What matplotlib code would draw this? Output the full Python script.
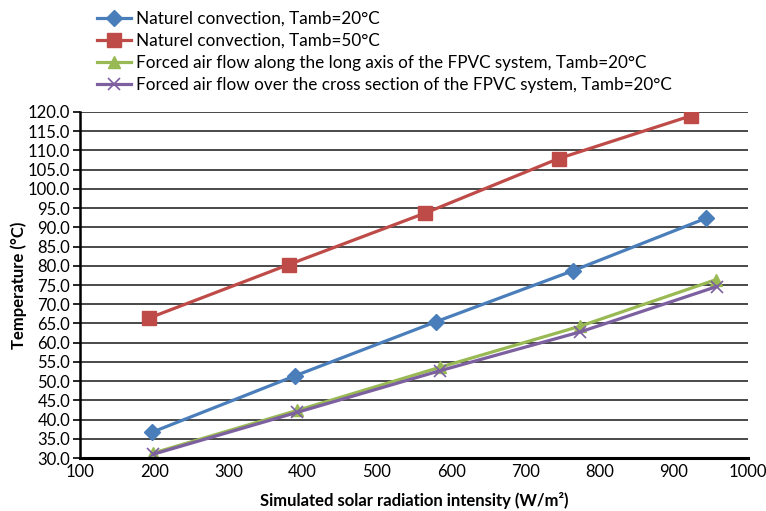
import matplotlib.pyplot as plt
import numpy as np

plt.rcParams['font.family'] = ['Lato', 'DejaVu Sans']

x_nat20 = [197, 390, 579, 764, 944]
t_nat20 = [36.7, 51.4, 65.4, 78.7, 92.4]
x_nat50 = [193, 381, 565, 745, 923]
t_nat50 = [66.4, 80.3, 93.7, 107.9, 119.0]
x_long = [199, 393, 585, 774, 957]
t_long = [31.3, 42.4, 53.6, 64.3, 76.4]
x_cross = [199, 393, 585, 774, 958]
t_cross = [31.0, 41.9, 52.7, 62.8, 74.6]

labels = ["Naturel convection, Tamb=20°C",
          "Naturel convection, Tamb=50°C",
          "Forced air flow along the long axis of the FPVC system, Tamb=20°C",
          "Forced air flow over the cross section of the FPVC system, Tamb=20°C"]
colors = ['#4A7EBB', '#BE4B48', '#98B954', '#7D60A0']

fig = plt.figure(figsize=(7.66, 5.11), dpi=100)
ax = fig.add_axes([80/766, 53/511, 668/766, 346/511])

ax.plot(x_nat20, t_nat20, color=colors[0], lw=2.3, marker='D', ms=8,
        mec=colors[0], label=labels[0])
ax.plot(x_nat50, t_nat50, color=colors[1], lw=2.3, marker='s', ms=9.5,
        mec=colors[1], label=labels[1])
ax.plot(x_long, t_long, color=colors[2], lw=2.3, marker='^', ms=9,
        mec=colors[2], label=labels[2])
ax.plot(x_cross, t_cross, color=colors[3], lw=2.3, marker='x', ms=9,
        mew=1.2, label=labels[3])

ax.set_xlim(100, 1000)
ax.set_ylim(30, 120)
ax.set_xticks(np.arange(100, 1001, 100))
ax.set_yticks(np.arange(30, 120.1, 5))
ax.set_yticklabels([f"{v:.1f}" for v in np.arange(30, 120.1, 5)])
ax.yaxis.grid(True, color='#3a3a3a', lw=1.3)
ax.set_axisbelow(True)
for s in ['top', 'right']:
    ax.spines[s].set_visible(False)
ax.spines['left'].set_linewidth(1.8)
ax.spines['bottom'].set_linewidth(2.2)
ax.tick_params(axis='x', length=0, labelsize=12, pad=4)
ax.tick_params(axis='y', length=5, width=1.2, labelsize=12, pad=2)

ax.set_xlabel("Simulated solar radiation intensity (W/m²)", fontsize=12,
              fontweight='bold', labelpad=9)
ax.set_ylabel("Temperature (°C)", fontsize=12, fontweight='bold', labelpad=1)

fig.legend(loc='upper left', bbox_to_anchor=(90/766, 1 - 4/511), frameon=False,
           fontsize=12.3, handlelength=2.0, handletextpad=0.3, labelspacing=0.36,
           borderaxespad=0)

fig.savefig("out.png", dpi=100)
